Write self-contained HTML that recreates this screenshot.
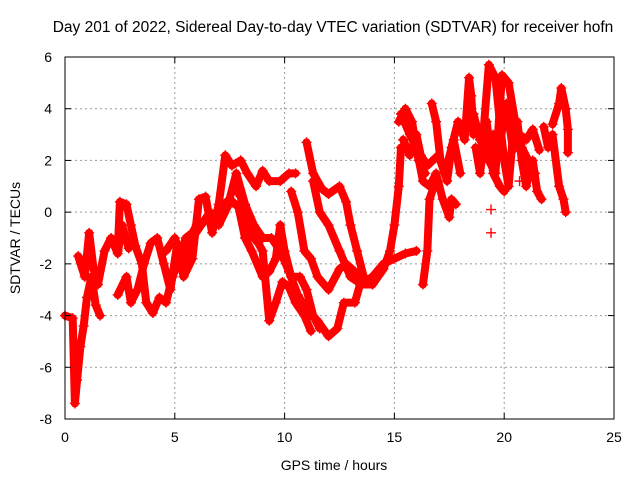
<!DOCTYPE html>
<html><head><meta charset="utf-8"><style>
body{margin:0;background:#fff}
svg{display:block;font-family:"Liberation Sans",Arial,sans-serif}
</style></head><body>
<svg id="chart" width="640" height="480">
<rect width="640" height="480" fill="#fff"/>
<text x="333" y="32" font-size="15.5" text-anchor="middle">Day 201 of 2022, Sidereal Day-to-day VTEC variation (SDTVAR) for receiver hofn</text>
<g id="grid"></g>
<g id="series"></g>
<rect x="65" y="57" width="549" height="362" fill="none" stroke="#000" stroke-width="1"/>
<g id="ticks"></g>
<text x="334" y="470" font-size="14" text-anchor="middle">GPS time / hours</text>
<text x="20" y="238" font-size="14" text-anchor="middle" transform="rotate(-90 20 238)">SDTVAR / TECUs</text>
</svg>
<script>
const xTicks=[0,5,10,15,20,25];
const yTicks=[-8,-6,-4,-2,0,2,4,6];
const track1=[[0,-4],[0.35,-4.1],[0.45,-7.4],[0.55,-6.5],[0.7,-5.2],[0.85,-4.4],[1.0,-3.3],[1.2,-2.5],[1.4,-3.6],[1.6,-4]];
const track2=[[0.6,-1.7],[0.9,-2.5],[1.1,-0.8],[1.3,-2.2],[1.5,-2.8],[1.8,-1.5],[2.1,-1.0],[2.4,-1.6],[2.6,-0.5],[2.9,-1.4]];
const track3=[[2.4,-1.5],[2.5,0.4],[2.8,0.3],[3.0,-0.5],[3.2,-1.3],[3.5,-2.0],[3.7,-3.5],[4.0,-3.9],[4.3,-3.3],[4.6,-3.5],[4.9,-2.5],[5.2,-1.8],[5.5,-1.0],[5.8,-0.8],[6.0,-0.5]];
const track4=[[2.4,-3.2],[2.8,-2.5],[3.0,-3.5],[3.3,-3.0],[3.6,-2.0],[3.9,-1.2],[4.2,-1.0],[4.5,-2.0],[4.8,-3.0],[5.1,-1.3],[5.4,-2.5],[5.8,-1.8],[6.1,0.5],[6.4,0.6],[6.7,-0.8],[7.0,0.3],[7.3,2.2],[7.6,1.8],[8.0,2.0],[8.3,1.5],[8.7,1.0],[9.0,1.6],[9.3,1.2],[9.8,1.2],[10.2,1.5],[10.5,1.5]];
const track5=[[4.6,-1.5],[5.0,-1.0],[5.4,-2.0],[5.8,-1.0],[6.2,-0.5],[6.6,0.0],[7.0,-0.5],[7.4,0.2],[7.8,1.5],[8.2,0.3],[8.6,-0.5],[9.0,-1.0],[9.4,-1.0],[9.8,-1.5],[10.2,-2.3],[10.6,-3.2],[11.0,-3.8],[11.5,-4.2],[12.0,-4.8],[12.4,-4.5],[12.7,-3.5],[13.2,-3.5],[13.5,-2.6]];
const track6=[[7.0,0.1],[7.5,0.5],[7.9,0.2],[8.2,-1.0],[8.5,-1.5],[9.0,-2.5],[9.3,-2.3],[9.6,-1.8],[9.8,-0.5],[10.0,-1.5],[10.3,-2.5],[10.7,-2.5],[11.0,-3.0],[11.3,-4.0],[11.6,-4.5]];
const track7=[[7.7,1.0],[8.0,0.6],[8.4,-0.8],[8.8,-1.2],[9.0,-1.5],[9.3,-4.2],[9.6,-3.5],[9.9,-2.7],[10.2,-2.9],[10.5,-3.5],[10.9,-4.0],[11.2,-4.6]];
const track8=[[10.3,0.8],[10.6,0.0],[10.9,-1.5],[11.2,-1.8],[11.5,-2.5],[12.0,-3.0],[12.5,-2.2],[12.8,-2.0],[13.2,-2.3],[13.5,-2.8],[14.0,-2.5],[14.5,-2.0],[15.0,-1.8],[15.5,-1.6],[16.0,-1.5]];
const track9=[[11.0,2.7],[11.3,1.5],[11.7,0.9],[12.0,0.7],[12.5,1.0],[12.8,0.4],[13.0,-0.5],[13.3,-1.5],[13.6,-2.5],[14.0,-2.8],[14.5,-2.2],[14.8,-1.5],[15.0,-0.5],[15.2,1.0],[15.3,2.5]];
const track10=[[11.3,1.2],[11.6,0.0],[12.0,-0.5],[12.5,-1.5],[13.0,-2.5],[13.5,-2.8],[14.0,-2.8],[14.5,-2.0]];
const track11=[[15.3,3.8],[15.7,3.0],[16.0,2.5],[16.3,1.2],[16.6,1.0],[16.9,1.5],[17.2,0.5],[17.5,-0.2],[17.6,0.5],[17.8,0.3]];
const track12=[[15.2,3.5],[15.5,4.0],[15.8,3.5],[16.1,2.0],[16.4,1.5]];
const track13=[[16.3,-2.8],[16.5,-1.5],[16.6,0.5],[16.8,1.0]];
const track14=[[16.7,4.2],[16.9,3.5],[17.1,2.0],[17.4,1.2],[17.6,2.5],[17.9,3.5],[18.2,2.8],[18.4,5.2],[18.5,4.5],[18.6,3.0]];
const track15=[[19.0,2.5],[19.3,5.7],[19.6,5.2],[19.8,3.5],[20.0,2.0],[20.2,1.0],[20.4,3.0],[20.6,3.5],[20.8,2.0],[21.0,1.0],[21.3,2.0],[21.5,0.8],[21.7,0.5]];
const track16=[[19.0,3.0],[19.3,2.0],[19.6,1.5],[19.9,5.3],[20.2,5.0],[20.5,3.5],[20.8,2.5],[21.1,2.0],[21.4,1.5]];
const track17=[[18.7,2.5],[18.9,1.5],[19.2,3.5],[19.5,1.5],[19.8,1.0],[20.0,0.8]];
const track18=[[21.8,3.3],[22.0,2.5],[22.2,3.0],[22.5,1.0],[22.7,0.5],[22.8,0.0]];
const track19=[[22.2,3.4],[22.5,4.2],[22.6,4.8],[22.8,4.0],[22.9,3.2],[22.9,2.3]];
const track20=[[18.6,3.8],[18.9,2.8],[19.2,2.4],[19.5,3.0],[19.8,2.6],[20.1,4.2],[20.4,2.4],[20.7,3.0],[21.0,2.8],[21.3,3.2],[21.6,2.4]];
const track21=[[15.4,2.8],[15.7,2.2],[16.0,3.0],[16.2,2.2],[16.5,1.8],[17.0,2.2],[17.3,1.5],[17.7,2.8],[18.0,1.5]];
const isolated=[[19.4,-0.8],[19.4,0.1],[18.5,4.0],[20.7,1.2]];
const tracks=[track1,track2,track3,track4,track5,track6,track7,track8,track9,track10,track11,track12,track13,track14,track15,track16,track17,track18,track19,track20,track21];

const X0=65,X1=614,Y0=419,Y1=57;
function xs(t){return X0+(t-0)/(25-0)*(X1-X0);}
function ys(v){return Y0-(v+8)/(6+8)*(Y0-Y1);}
const NS='http://www.w3.org/2000/svg';
const grid=document.getElementById('grid'),ticks=document.getElementById('ticks'),series=document.getElementById('series');
function mk(tag,attrs,parent){const e=document.createElementNS(NS,tag);for(const k in attrs)e.setAttribute(k,attrs[k]);parent.appendChild(e);return e;}
xTicks.forEach(t=>{
  const x=xs(t);
  if(t>0&&t<25){const g=mk('line',{x1:x,x2:x,y1:Y1,y2:Y0,stroke:'#999','stroke-dasharray':'2,3'},grid);
  
  }
  const a=mk('line',{x1:x,x2:x,y1:Y0,y2:Y0-6,stroke:'#000'},ticks);
  
  
  const b=mk('line',{x1:x,x2:x,y1:Y1,y2:Y1+6,stroke:'#000'},ticks);
  
  
  const l=mk('text',{x:x,y:442,'font-size':14,'text-anchor':'middle'},ticks);l.textContent=t;
  
  
});
yTicks.forEach(v=>{
  const y=ys(v);
  if(v>-8&&v<6){const g=mk('line',{x1:X0,x2:X1,y1:y,y2:y,stroke:'#999','stroke-dasharray':'2,3'},grid);
  
  }
  const a=mk('line',{x1:X0,x2:X0+6,y1:y,y2:y,stroke:'#000'},ticks);
  
  
  const b=mk('line',{x1:X1,x2:X1-6,y1:y,y2:y,stroke:'#000'},ticks);
  
  
  const l=mk('text',{x:52,y:y+5,'font-size':14,'text-anchor':'end'},ticks);l.textContent=v;
  
  
});
function plus(t,v){
  const x=xs(t),y=ys(v);
  const p=mk('path',{d:`M${x-5},${y}H${x+5}M${x},${y-5}V${y+5}`,stroke:'#f00','stroke-width':1.4,fill:'none'},series);
  
  
}
tracks.forEach(tr=>{
  const pl=mk('polyline',{points:tr.map(p=>xs(p[0])+','+ys(p[1])).join(' '),fill:'none',stroke:'#f00','stroke-width':8,'stroke-linejoin':'round','stroke-linecap':'round'},series);
  
  
  tr.forEach(p=>plus(p[0],p[1]));
});
isolated.forEach(p=>plus(p[0],p[1]));
</script>
</body></html>
